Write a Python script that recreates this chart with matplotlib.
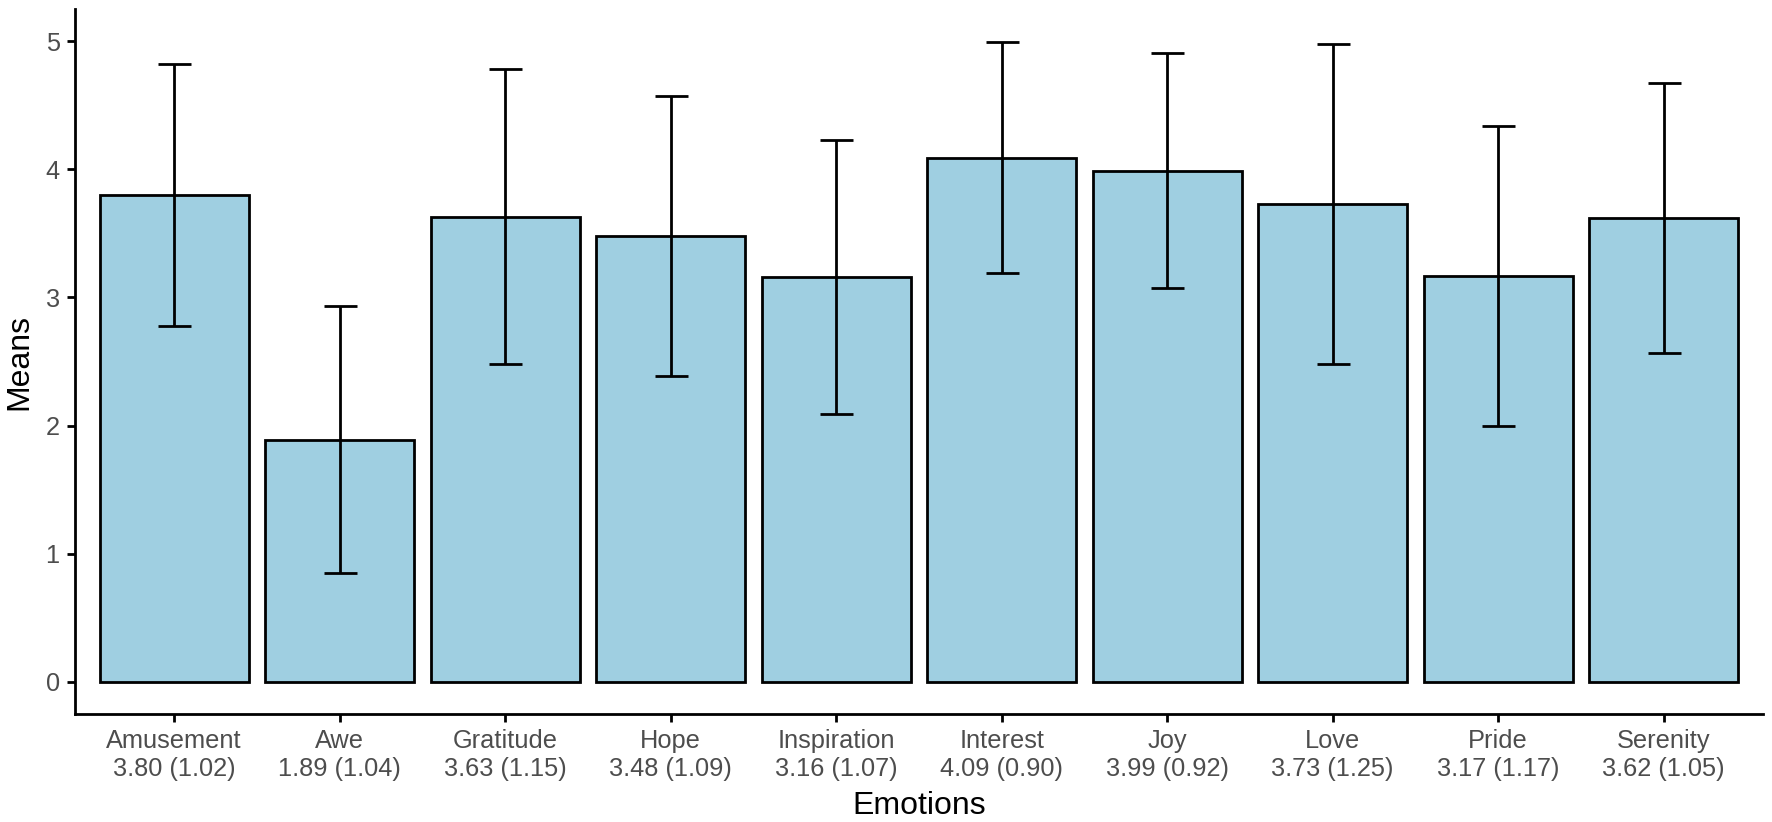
import matplotlib.pyplot as plt

plt.rcParams['font.family'] = ['Liberation Sans', 'DejaVu Sans']

emotions = ['Amusement', 'Awe', 'Gratitude', 'Hope', 'Inspiration',
            'Interest', 'Joy', 'Love', 'Pride', 'Serenity']
means = [3.80, 1.89, 3.63, 3.48, 3.16, 4.09, 3.99, 3.73, 3.17, 3.62]
sds = [1.02, 1.04, 1.15, 1.09, 1.07, 0.90, 0.92, 1.25, 1.17, 1.05]

labels = [f'{e}\n{m:.2f} ({s:.2f})' for e, m, s in zip(emotions, means, sds)]
x = list(range(1, len(emotions) + 1))

fig = plt.figure(figsize=(17.72, 8.22), dpi=100)
ax = fig.add_axes([0.0423, 0.1314, 0.9526, 0.8576])

ax.bar(x, means, width=0.9, color='#9FCFE1', edgecolor='black', linewidth=2.0, zorder=2)
ax.errorbar(x, means, yerr=sds, fmt='none', ecolor='black', elinewidth=2.0,
            capsize=16.5 * 0.72, capthick=2.0, zorder=3)

ax.set_xlim(0.4, 10.6)
ax.set_ylim(-0.25, 5.25)
ax.set_yticks([0, 1, 2, 3, 4, 5])
ax.set_xticks(x)
ax.set_xticklabels(labels, linespacing=1.22)

for s in ['top', 'right']:
    ax.spines[s].set_visible(False)
for s in ['left', 'bottom']:
    ax.spines[s].set_linewidth(2.0)

ax.tick_params(axis='both', length=6, width=2.0, labelsize=18.3, labelcolor='#4D4D4D', pad=5)

ax.set_xlabel('Emotions', fontsize=23, labelpad=7)
ax.set_ylabel('Means', fontsize=23, labelpad=8)

fig.savefig('out.png', dpi=100)
